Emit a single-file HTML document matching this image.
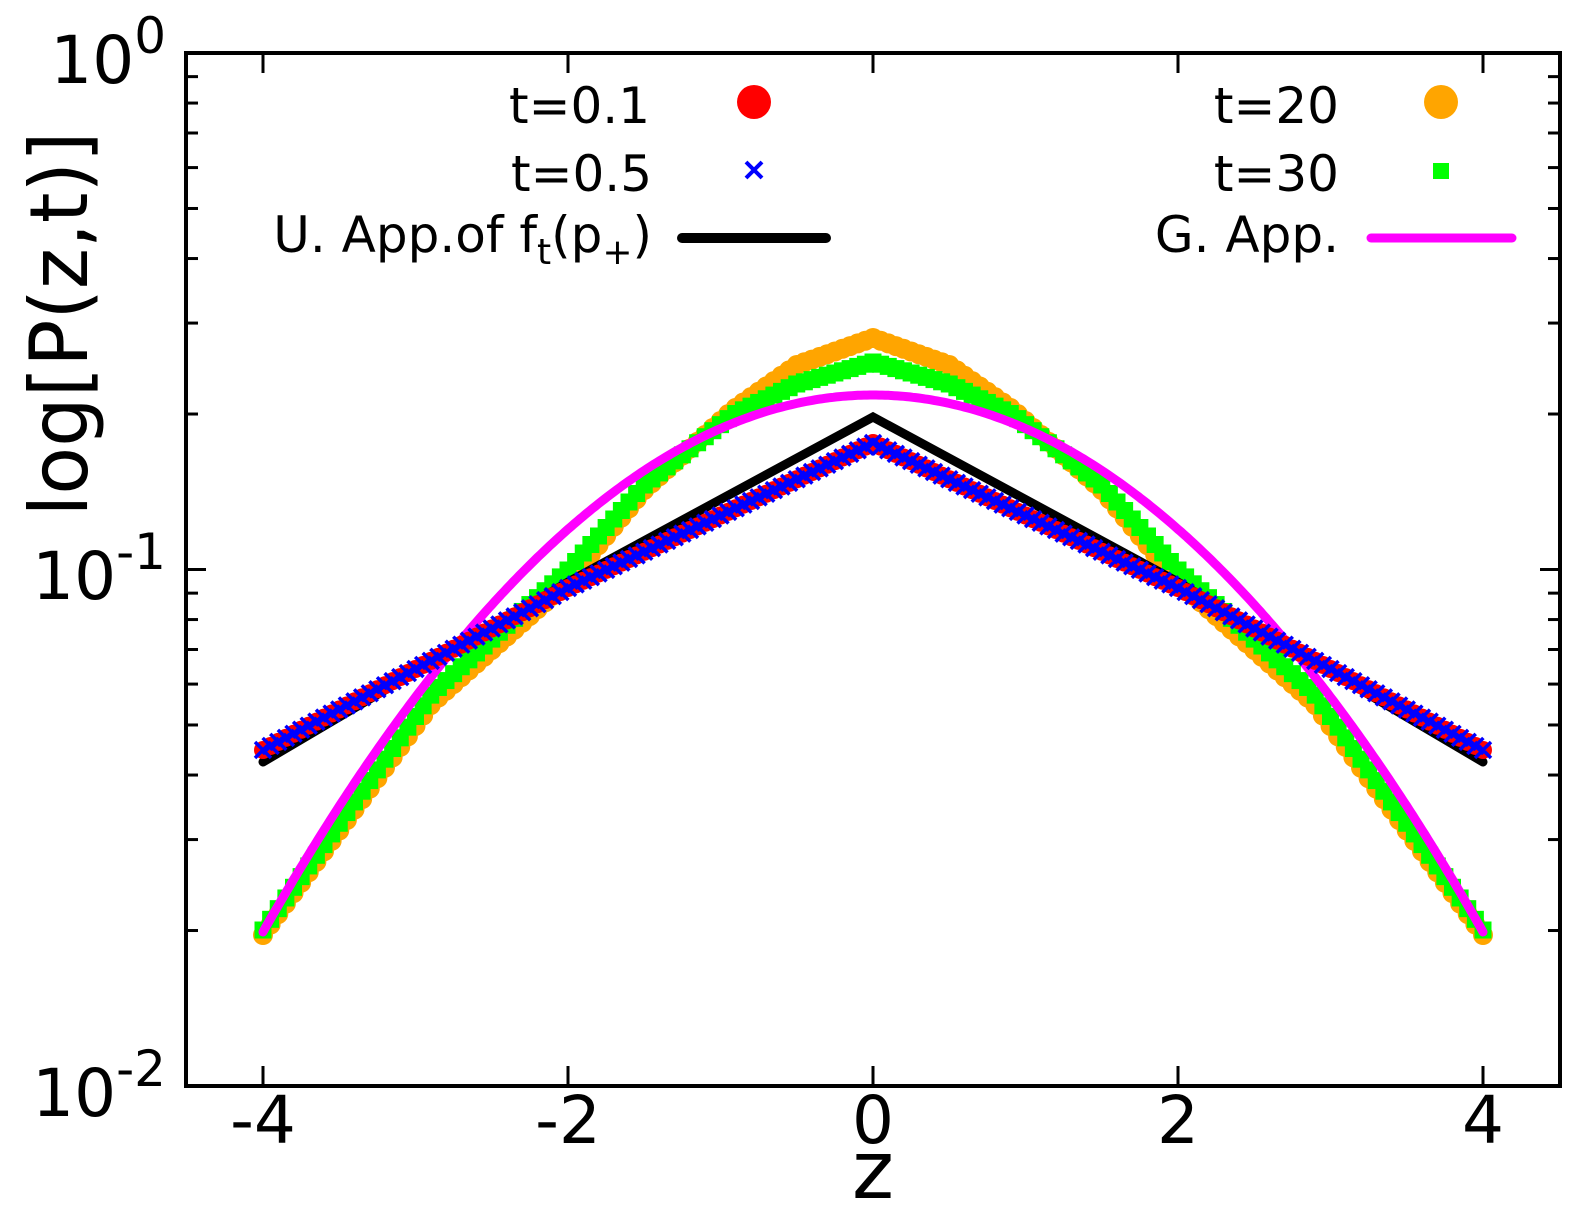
<!DOCTYPE html>
<html><head><meta charset="utf-8"><style>
body{margin:0;background:#fff}
svg{display:block;font-family:"DejaVu Sans","Liberation Sans",sans-serif}
</style></head><body>
<svg id="s" width="1590" height="1231" viewBox="0 0 1590 1231" xmlns="http://www.w3.org/2000/svg">
<rect width="1590" height="1231" fill="#fff"/>
<g id="data"></g>
<g id="ticks" stroke="#000" stroke-width="3"></g>
<rect x="186" y="53" width="1374" height="1033" fill="none" stroke="#000" stroke-width="4"/>
<g font-size="66" fill="#000">
<text x="263" y="1143" text-anchor="middle">-4</text>
<text x="568" y="1143" text-anchor="middle">-2</text>
<text x="873" y="1143" text-anchor="middle">0</text>
<text x="1178" y="1143" text-anchor="middle">2</text>
<text x="1483" y="1143" text-anchor="middle">4</text>
<text x="166" y="83" text-anchor="end">10<tspan font-size="50" dy="-30">0</tspan></text>
<text x="166" y="599" text-anchor="end">10<tspan font-size="50" dy="-30">-1</tspan></text>
<text x="166" y="1116" text-anchor="end">10<tspan font-size="50" dy="-30">-2</tspan></text>
<text x="873" y="1198" font-size="80" text-anchor="middle">z</text>
<text transform="translate(87,324) rotate(-90)" text-anchor="middle" font-size="80" textLength="385" lengthAdjust="spacingAndGlyphs">log[P(z,t)]</text>
</g>
<g font-size="50" fill="#000" text-anchor="end">
<text x="650" y="123">t=0.1</text>
<text x="652" y="191">t=0.5</text>
<text x="652" y="252">U. App.of f<tspan font-size="36" dy="12">t</tspan><tspan dy="-12">(p</tspan><tspan font-size="36" dy="12">+</tspan><tspan dy="-12">)</tspan></text>
<text x="1339" y="123">t=20</text>
<text x="1339" y="191">t=30</text>
<text x="1339" y="252">G. App.</text>
</g>
<circle cx="754" cy="102" r="17" fill="#f00"/>
<path d="M746 162 L762 178 M762 162 L746 178" stroke="#00f" stroke-width="4"/>
<line x1="682" y1="238" x2="826" y2="238" stroke="#000" stroke-width="10" stroke-linecap="round"/>
<circle cx="1441" cy="102" r="17" fill="#ffa500"/>
<rect x="1433" y="163" width="16" height="16" fill="#0f0"/>
<line x1="1371" y1="238" x2="1512" y2="238" stroke="#f0f" stroke-width="9" stroke-linecap="round"/>
</svg>
<script>
var NS="http://www.w3.org/2000/svg";
var g=document.getElementById("data"),tk=document.getElementById("ticks");
function X(z){return 873+152.5*z;}
function el(n,a,p){var e=document.createElementNS(NS,n);for(var k in a)e.setAttribute(k,a[k]);(p||g).appendChild(e);return e;}
function pw(a,b,c,z){z=Math.abs(z);return z<=2?a+(b-a)*z/2:b+(c-b)*(z-2)/2;}
function interp(K,z){z=Math.abs(z);for(var j=1;j<K.length;j++){if(z<=K[j][0]+1e-9){var t=(z-K[j-1][0])/(K[j][0]-K[j-1][0]);return K[j-1][1]+t*(K[j][1]-K[j-1][1]);}}return K[K.length-1][1];}
var i,z,y,s;
for(i=0;i<=2;i++){var dec=53+516.5*i;
 el("line",{x1:186,y1:dec,x2:206,y2:dec},tk);el("line",{x1:1560,y1:dec,x2:1540,y2:dec},tk);}
for(var d=0;d<2;d++){for(var m=2;m<=9;m++){y=53+516.5*(d+1)-516.5*Math.log10(m);
 el("line",{x1:186,y1:y,x2:198,y2:y},tk);el("line",{x1:1560,y1:y,x2:1548,y2:y},tk);}}
for(z=-4;z<=4;z+=2){el("line",{x1:X(z),y1:1086,x2:X(z),y2:1066},tk);el("line",{x1:X(z),y1:53,x2:X(z),y2:73},tk);}
var KO=[[0,338],[0.5,365],[0.92,410],[1.5,490],[2,582],[2.89,703],[4,935]];
var KG=[[0,362],[0.5,384],[0.92,415],[1.5,485],[2,570],[2.89,693],[4,930]];
for(z=-4;z<=4.001;z+=0.05){y=interp(KO,z);el("circle",{cx:X(z),cy:y,r:10,fill:"#ffa500"});}
for(z=-4;z<=4.001;z+=0.05){y=interp(KG,z);el("rect",{x:X(z)-8.5,y:y-8.5,width:17,height:17,fill:"#0f0"});}
s="";for(z=-4;z<=4.001;z+=0.02){y=395+537*(z/4)*(z/4);s+=(s?"L":"M")+X(z).toFixed(1)+" "+y.toFixed(1);}
el("path",{d:s,fill:"none",stroke:"#f0f","stroke-width":9,"stroke-linecap":"round"});
el("path",{d:"M"+X(-4)+" 762 L"+X(-2)+" 582 L"+X(0)+" 417 L"+X(2)+" 582 L"+X(4)+" 762",fill:"none",stroke:"#000","stroke-width":9,"stroke-linecap":"round","stroke-linejoin":"miter"});
for(z=-4;z<=4.001;z+=0.05){y=pw(443,588,750,z);el("circle",{cx:X(z),cy:y,r:9,fill:"#f00"});}
s="";for(z=-4;z<=4.001;z+=0.05){y=pw(443,588,750,z);var x=X(z);s+="M"+(x-8)+" "+(y-8)+"L"+(x+8)+" "+(y+8)+"M"+(x+8)+" "+(y-8)+"L"+(x-8)+" "+(y+8);}
el("path",{d:s,stroke:"#00f","stroke-width":3.5,fill:"none"});
</script>
</body></html>
